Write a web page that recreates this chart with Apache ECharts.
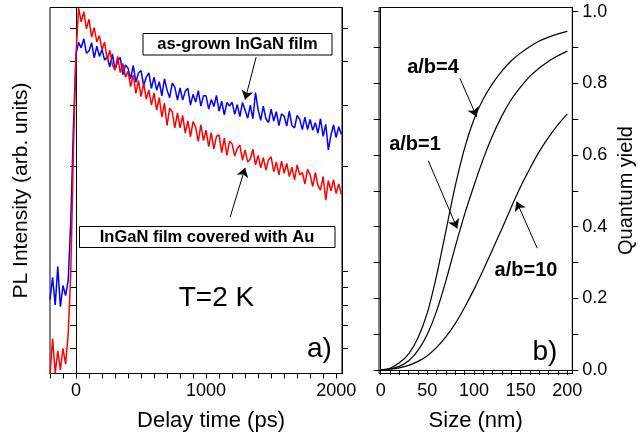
<!DOCTYPE html>
<html>
<head>
<meta charset="utf-8">
<script src="https://cdn.jsdelivr.net/npm/echarts@6/dist/echarts.min.js"></script>
<style>html,body{margin:0;padding:0;background:#fff;}#c{width:639px;height:442px;}</style>
</head>
<body>
<div id="c"></div>
<script>
// ---- Panel a) : PL transients ----
const times = [
  -200,-180,-160,-140,-120,-100,-80,-60,-40,-20,
  0,20,40,60,80,100,120,140,160,180,
  200,220,240,260,280,300,320,340,360,380,
  400,420,440,460,480,500,520,540,560,580,
  600,620,640,660,680,700,720,740,760,780,
  800,820,840,860,880,900,920,940,960,980,
  1000,1020,1040,1060,1080,1100,1120,1140,1160,1180,
  1200,1220,1240,1260,1280,1300,1320,1340,1360,1380,
  1400,1420,1440,1460,1480,1500,1520,1540,1560,1580,
  1600,1620,1640,1660,1680,1700,1720,1740,1760,1780,
  1800,1820,1840,1860,1880,1900,1920,1940,1960,1980,
  2000,2020,2040
];
const asGrown = [
  8.3,9.6,8.0,10.3,7.9,9.1,8.5,9.4,14,26,
  42,45.4,43.8,46.5,42.3,42.9,45.3,41.0,44.3,41.4,
  43.3,40.4,41.3,38.6,42.1,37.9,40.1,41.1,36.7,39.1,
  38.3,35.7,39.0,34.9,37.1,37.7,34.1,36.1,37.1,33.5,
  36.1,33.1,35.0,31.9,35.7,33.1,31.5,34.7,33.7,31.0,
  33.6,31.0,32.9,33.5,30.0,32.2,30.6,33.0,29.8,31.9,
  31.9,29.2,31.1,29.7,32.0,28.8,30.8,28.1,30.5,29.8,
  30.6,28.2,30.1,27.8,30.5,29.0,27.5,30.0,27.4,32.6,
  29.1,27.1,29.8,27.4,26.7,29.2,27.0,28.7,26.2,28.3,
  27.9,26.1,28.8,26.2,25.8,28.0,27.3,25.5,27.7,25.5,
  27.3,25.4,26.7,24.9,27.4,24.4,26.4,22.3,24.6,26.3,
  24.2,26.0,24.7
];
const withAu = [
  5.0,6.4,5.1,5.9,5.2,6.0,5.4,6.6,10,22,
  42,57,52.0,55.6,49.7,52.9,47.0,50.1,45.6,47.5,
  43.3,45.5,40.5,43.1,39.1,37.8,41.4,37.2,39.5,36.1,
  37.5,33.9,36.6,32.4,35.3,31.7,34.6,31.2,33.1,30.0,
  32.5,29.0,31.5,27.7,30.4,26.2,29.4,28.7,25.8,28.5,
  25.8,28.0,24.9,27.0,24.3,26.9,25.9,23.6,26.3,23.7,
  25.4,22.8,25.0,22.4,24.4,24.6,21.9,24.1,21.5,23.6,
  23.2,21.4,22.5,23.0,20.8,22.3,20.6,21.0,22.4,20.2,
  21.5,19.8,21.2,19.5,20.9,21.3,19.3,20.6,18.9,20.7,
  19.1,20.4,18.7,19.9,18.3,20.2,18.9,19.2,17.8,19.6,
  18.9,17.5,19.2,17.6,17.1,18.7,16.0,18.2,17.0,18.3,
  16.7,17.8,16.6
];
const timeTicks = [-200,-100,0,100,200,300,400,500,600,700,800,900,1000,1100,1200,1300,1400,1500,1600,1700,1800,1900,2000];
const timeLabels = [0,1000,2000];
const plTicks = [6,7,8,9,10,20,30,40,50];

// ---- Panel b) : quantum yield ----
const sizes = [0,10,20,30,40,50,60,70,80,90,100,110,120,130,140,150,160,170,180,190,200];
const qyAB4  = [0,0.005,0.02,0.045,0.09,0.16,0.265,0.39,0.515,0.62,0.70,0.757,0.80,0.835,0.863,0.885,0.903,0.918,0.929,0.938,0.945];
const qyAB1  = [0,0.003,0.01,0.026,0.055,0.10,0.165,0.25,0.345,0.435,0.515,0.59,0.655,0.71,0.755,0.79,0.82,0.843,0.862,0.877,0.89];
const qyAB10 = [0,0.002,0.006,0.013,0.024,0.04,0.063,0.093,0.13,0.175,0.225,0.28,0.337,0.395,0.455,0.512,0.563,0.61,0.65,0.685,0.715];
const sizeTicks = [0,10,20,30,40,50,60,70,80,90,100,110,120,130,140,150,160,170,180,190,200];
const sizeLabels = [0,50,100,150,200];
const qyTicks = [0,0.1,0.2,0.3,0.4,0.5,0.6,0.7,0.8,0.9,1.0];
const qyLabels = [0,0.2,0.4,0.6,0.8,1.0];

const FONT = "'Liberation Sans', Arial, sans-serif";
const black = '#000';
const chart = echarts.init(document.getElementById('c'), null, {renderer: 'canvas'});

function pairs(xs, ys){ return xs.map((x,i)=>[x, ys[i]]); }
function arrow(from, to){
  return [{coord: from, symbol: 'none'}, {coord: to, symbol: 'arrow'}];
}
const markStyle = {
  silent: true, symbolSize: 9, label: {show: false},
  lineStyle: {color: black, width: 1, type: 'solid'},
  emphasis: {disabled: true}, animation: false
};

const axisLineStyle = {show: true, lineStyle: {color: black, width: 1}};

chart.setOption({
  animation: false,
  backgroundColor: '#fff',
  textStyle: {fontFamily: FONT, color: black},
  grid: [
    {left: 50, top: 7.5, width: 292, height: 366, show: true, borderColor: black, borderWidth: 1, containLabel: false},
    {left: 379, top: 7.5, width: 193.3, height: 366, show: true, borderColor: black, borderWidth: 1, containLabel: false}
  ],
  xAxis: [
    {gridIndex: 0, type: 'value', min: -200, max: 2045, position: 'bottom',
     axisLine: axisLineStyle, splitLine: {show: false},
     axisTick: {show: true, length: 5, customValues: timeTicks, lineStyle: {color: black}},
     axisLabel: {customValues: timeLabels, fontSize: 18, color: black, margin: 9, fontFamily: FONT,
                 formatter: v => String(v)},
     name: 'Delay time (ps)', nameLocation: 'middle', nameGap: 36,
     nameTextStyle: {fontSize: 22, color: black, fontFamily: FONT, padding: [0,0,0,30]}},
    {gridIndex: 1, type: 'value', min: -1.8, max: 205.3, position: 'bottom',
     axisLine: axisLineStyle, splitLine: {show: false},
     axisTick: {show: true, length: 5, customValues: sizeTicks, lineStyle: {color: black}},
     axisLabel: {customValues: sizeLabels, fontSize: 18, color: black, margin: 9, fontFamily: FONT,
                 formatter: v => String(v)},
     name: 'Size (nm)', nameLocation: 'middle', nameGap: 36,
     nameTextStyle: {fontSize: 22, color: black, fontFamily: FONT}}
  ],
  yAxis: [
    {gridIndex: 0, type: 'log', min: 5.08, max: 57.2, position: 'left',
     axisLine: axisLineStyle, splitLine: {show: false},
     axisTick: {show: true, length: 6, customValues: plTicks, lineStyle: {color: black}},
     axisLabel: {show: false},
     name: 'PL Intensity (arb. units)', nameLocation: 'middle', nameGap: 18,
     nameTextStyle: {fontSize: 21, color: black, fontFamily: FONT}},
    {gridIndex: 0, type: 'log', min: 5.08, max: 57.2, position: 'right',
     axisLine: axisLineStyle, splitLine: {show: false},
     axisTick: {show: true, length: 6, customValues: plTicks, lineStyle: {color: black}},
     axisLabel: {show: false}},
    {gridIndex: 1, type: 'value', min: -0.0098, max: 1.0117, position: 'left',
     axisLine: axisLineStyle, splitLine: {show: false},
     axisTick: {show: true, length: 7, customValues: qyTicks, lineStyle: {color: black}},
     axisLabel: {show: false}},
    {gridIndex: 1, type: 'value', min: -0.0098, max: 1.0117, position: 'right',
     axisLine: axisLineStyle, splitLine: {show: false},
     axisTick: {show: true, length: 6, customValues: qyTicks, lineStyle: {color: black}},
     axisLabel: {customValues: qyLabels, fontSize: 18, color: black, margin: 10, fontFamily: FONT,
                 formatter: v => Number(v).toFixed(1)},
     name: 'Quantum yield', nameLocation: 'middle', nameGap: 44, nameRotate: 90,
     nameTextStyle: {fontSize: 20, color: black, fontFamily: FONT}}
  ],
  series: [
    {type: 'line', name: 'as-grown InGaN film', xAxisIndex: 0, yAxisIndex: 0,
     data: pairs(times, asGrown), showSymbol: false, symbol: 'none',
     lineStyle: {color: '#0000ff', width: 1.5}, itemStyle: {color: '#0000ff'},
     markLine: Object.assign({data: [arrow([1385, 41.2], [1300, 31.1])]}, markStyle)},
    {type: 'line', name: 'InGaN film covered with Au', xAxisIndex: 0, yAxisIndex: 0,
     data: pairs(times, withAu), showSymbol: false, symbol: 'none',
     lineStyle: {color: '#ff0000', width: 1.5}, itemStyle: {color: '#ff0000'},
     markLine: Object.assign({data: [arrow([1185, 14.3], [1300, 19.8])]}, markStyle)},
    {type: 'line', name: 'a/b=4', xAxisIndex: 1, yAxisIndex: 3,
     data: pairs(sizes, qyAB4), showSymbol: false, symbol: 'none', smooth: 0.3,
     lineStyle: {color: black, width: 1.2},
     markLine: Object.assign({data: [arrow([84.9, 0.814], [102.8, 0.707])]}, markStyle)},
    {type: 'line', name: 'a/b=1', xAxisIndex: 1, yAxisIndex: 3,
     data: pairs(sizes, qyAB1), showSymbol: false, symbol: 'none', smooth: 0.3,
     lineStyle: {color: black, width: 1.2},
     markLine: Object.assign({data: [arrow([51, 0.584], [82, 0.395])]}, markStyle)},
    {type: 'line', name: 'a/b=10', xAxisIndex: 1, yAxisIndex: 3,
     data: pairs(sizes, qyAB10), showSymbol: false, symbol: 'none', smooth: 0.3,
     lineStyle: {color: black, width: 1.2},
     markLine: Object.assign({data: [arrow([167.7, 0.340], [145.6, 0.470])]}, markStyle)}
  ],
  graphic: [
    {type: 'rect', shape: {x: 143, y: 33.5, width: 189, height: 21.5}, style: {fill: '#fff', stroke: black, lineWidth: 1}, z: 100},
    {type: 'text', x: 237.5, y: 44.5, style: {text: 'as-grown InGaN film', font: 'bold 16.5px ' + FONT, fill: black, align: 'center', verticalAlign: 'middle'}, z: 101},
    {type: 'rect', shape: {x: 79.5, y: 226.5, width: 255.5, height: 21}, style: {fill: '#fff', stroke: black, lineWidth: 1}, z: 100},
    {type: 'text', x: 207, y: 237.5, style: {text: 'InGaN film covered with Au', font: 'bold 16.5px ' + FONT, fill: black, align: 'center', verticalAlign: 'middle'}, z: 101},
    {type: 'text', x: 216.5, y: 298, style: {text: 'T=2 K', font: '28px ' + FONT, fill: black, align: 'center', verticalAlign: 'middle'}, z: 101},
    {type: 'text', x: 319.5, y: 349, style: {text: 'a)', font: '28px ' + FONT, fill: black, align: 'center', verticalAlign: 'middle'}, z: 101},
    {type: 'text', x: 433, y: 67.5, style: {text: 'a/b=4', font: 'bold 20px ' + FONT, fill: black, align: 'center', verticalAlign: 'middle'}, z: 101},
    {type: 'text', x: 415, y: 144, style: {text: 'a/b=1', font: 'bold 20px ' + FONT, fill: black, align: 'center', verticalAlign: 'middle'}, z: 101},
    {type: 'text', x: 526, y: 270, style: {text: 'a/b=10', font: 'bold 20px ' + FONT, fill: black, align: 'center', verticalAlign: 'middle'}, z: 101},
    {type: 'text', x: 545, y: 352, style: {text: 'b)', font: '28px ' + FONT, fill: black, align: 'center', verticalAlign: 'middle'}, z: 101}
  ]
});
</script>
</body>
</html>
